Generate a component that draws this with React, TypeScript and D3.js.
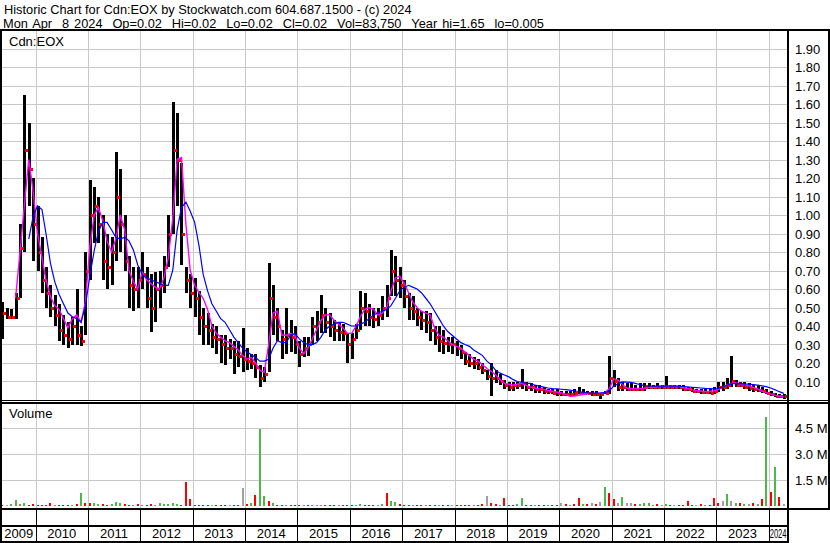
import React, { useEffect, useRef } from "react";
import * as d3 from "d3";

// monthly values, May 2009 .. Apr 2024
const highs = [
  0.53, 0.5, 0.49, 0.58, 0.95, 1.65, 1.5, 1.2,
  1.05, 0.88, 0.72, 0.62, 0.57, 0.52, 0.46, 0.42, 0.45, 0.6, 0.4, 0.8,
  1.19, 1.15, 1.1, 1.0, 0.9, 0.88, 1.34, 1.25, 1.0, 0.78, 0.72, 0.72,
  0.8, 0.72, 0.68, 0.69, 0.7, 0.78, 1.0, 1.61, 1.55, 1.28, 0.72, 0.68,
  0.66, 0.59, 0.5, 0.47, 0.41, 0.4, 0.35, 0.35, 0.33, 0.32, 0.32, 0.39,
  0.28, 0.25, 0.25, 0.19, 0.18, 0.74, 0.62, 0.5, 0.38, 0.5, 0.43, 0.4,
  0.32, 0.34, 0.34, 0.45, 0.48, 0.57, 0.5, 0.47, 0.43, 0.42, 0.41, 0.36,
  0.36, 0.41, 0.59, 0.58, 0.52, 0.5, 0.5, 0.56, 0.62, 0.81, 0.78, 0.72,
  0.65, 0.58, 0.56, 0.5, 0.48, 0.48, 0.47, 0.4, 0.4, 0.38, 0.34, 0.34,
  0.32, 0.3, 0.26, 0.25, 0.23, 0.22, 0.2, 0.16, 0.2, 0.16, 0.14, 0.11,
  0.1, 0.1, 0.1, 0.17, 0.1, 0.09, 0.08, 0.08, 0.07, 0.06, 0.06, 0.06,
  0.05, 0.05, 0.05, 0.06, 0.07, 0.06, 0.05, 0.05, 0.05, 0.04, 0.05, 0.24,
  0.16, 0.12, 0.1, 0.09, 0.09, 0.08, 0.09, 0.09, 0.09, 0.08, 0.09, 0.08,
  0.13, 0.08, 0.08, 0.08, 0.08, 0.07, 0.07, 0.06, 0.06, 0.06, 0.06, 0.07,
  0.1, 0.1, 0.12, 0.24, 0.11, 0.1, 0.1, 0.09, 0.08, 0.08, 0.07, 0.06,
  0.05, 0.04, 0.03, 0.03,
];
const lows = [
  0.33, 0.44, 0.44, 0.44, 0.55, 0.8, 1.05, 0.75,
  0.7, 0.58, 0.5, 0.45, 0.4, 0.32, 0.3, 0.28, 0.3, 0.3, 0.29, 0.35,
  0.65, 0.85, 0.85, 0.65, 0.6, 0.62, 0.75, 0.8, 0.7, 0.5, 0.48, 0.5,
  0.6, 0.5, 0.37, 0.42, 0.5, 0.58, 0.72, 0.9, 1.05, 0.73, 0.58, 0.5,
  0.45, 0.35, 0.3, 0.3, 0.28, 0.25, 0.2, 0.19, 0.22, 0.14, 0.18, 0.15,
  0.16, 0.17, 0.12, 0.07, 0.1, 0.15, 0.35, 0.32, 0.22, 0.25, 0.26, 0.25,
  0.18, 0.23, 0.24, 0.3, 0.32, 0.36, 0.36, 0.34, 0.32, 0.32, 0.32, 0.2,
  0.22, 0.33, 0.38, 0.4, 0.4, 0.39, 0.4, 0.43, 0.45, 0.56, 0.56, 0.55,
  0.5, 0.43, 0.43, 0.4, 0.38, 0.36, 0.32, 0.3, 0.26, 0.25, 0.26, 0.25,
  0.24, 0.22, 0.19, 0.18, 0.17, 0.16, 0.14, 0.11, 0.02, 0.09, 0.08, 0.06,
  0.05, 0.05, 0.06, 0.06, 0.05, 0.05, 0.04, 0.04, 0.03, 0.03, 0.03, 0.02,
  0.02, 0.02, 0.02, 0.02, 0.03, 0.03, 0.03, 0.02, 0.02, 0.005, 0.03, 0.03,
  0.07, 0.05, 0.05, 0.05, 0.05, 0.05, 0.05, 0.05, 0.06, 0.06, 0.06, 0.06,
  0.06, 0.06, 0.06, 0.06, 0.05, 0.05, 0.045, 0.04, 0.035, 0.035, 0.035, 0.035,
  0.045, 0.05, 0.06, 0.07, 0.07, 0.07, 0.06, 0.05, 0.045, 0.045, 0.04, 0.03,
  0.02, 0.015, 0.01, 0.005,
];
const closes = [
  0.47, 0.45, 0.45, 0.55, 0.82, 1.35, 1.25, 0.95,
  0.8, 0.65, 0.58, 0.5, 0.46, 0.38, 0.35, 0.33, 0.4, 0.35, 0.32, 0.7,
  1.0, 1.05, 0.95, 0.75, 0.72, 0.8, 1.1, 0.95, 0.75, 0.62, 0.6, 0.65,
  0.68, 0.55, 0.5, 0.6, 0.62, 0.72, 0.9, 1.35, 1.3, 0.9, 0.65, 0.58,
  0.55, 0.45, 0.4, 0.38, 0.34, 0.33, 0.3, 0.28, 0.28, 0.25, 0.24, 0.22,
  0.21, 0.2, 0.18, 0.12, 0.14, 0.55, 0.45, 0.4, 0.33, 0.35, 0.34, 0.3,
  0.25, 0.28, 0.3, 0.4, 0.42, 0.46, 0.42, 0.4, 0.38, 0.37, 0.36, 0.3,
  0.33, 0.38, 0.5, 0.48, 0.45, 0.44, 0.46, 0.5, 0.55, 0.7, 0.65, 0.62,
  0.56, 0.5, 0.48, 0.45, 0.43, 0.42, 0.38, 0.34, 0.32, 0.31, 0.3, 0.3,
  0.28, 0.26, 0.21, 0.2, 0.2, 0.18, 0.16, 0.13, 0.12, 0.12, 0.1, 0.08,
  0.07, 0.08, 0.08, 0.09, 0.07, 0.07, 0.06, 0.06, 0.05, 0.05, 0.04, 0.04,
  0.03, 0.03, 0.03, 0.04, 0.04, 0.04, 0.04, 0.03, 0.03, 0.03, 0.04, 0.12,
  0.1, 0.07, 0.07, 0.06, 0.06, 0.06, 0.06, 0.07, 0.07, 0.07, 0.07, 0.07,
  0.07, 0.07, 0.07, 0.07, 0.06, 0.06, 0.05, 0.05, 0.045, 0.045, 0.04, 0.05,
  0.07, 0.07, 0.08, 0.1, 0.08, 0.08, 0.07, 0.065, 0.06, 0.055, 0.05, 0.04,
  0.03, 0.02, 0.02, 0.02,
];
// magenta average line
const maShort = [
  null, null, null, 0.55, 0.8, 1.05, 1.3, 1.13,
  0.9, 0.77, 0.65, 0.56, 0.51, 0.49, 0.44, 0.39, 0.44, 0.46, 0.42, 0.53,
  0.83, 1.0, 1.04, 0.97, 0.86, 0.8, 0.87, 1.0, 0.92, 0.7, 0.64, 0.6,
  0.69, 0.65, 0.63, 0.61, 0.6, 0.66, 0.77, 0.98, 1.3, 1.31, 0.95, 0.7,
  0.62, 0.58, 0.55, 0.49, 0.4, 0.36, 0.34, 0.32, 0.31, 0.29, 0.27, 0.24,
  0.22, 0.23, 0.2, 0.16, 0.15, 0.3, 0.47, 0.48, 0.35, 0.35, 0.36, 0.35,
  0.28, 0.25, 0.28, 0.33, 0.38, 0.43, 0.46, 0.46, 0.43, 0.41, 0.39, 0.36,
  0.36, 0.4, 0.45, 0.49, 0.5, 0.49, 0.46, 0.47, 0.5, 0.59, 0.66, 0.67,
  0.63, 0.58, 0.53, 0.5, 0.48, 0.47, 0.46, 0.39, 0.35, 0.34, 0.32, 0.3,
  0.29, 0.28, 0.26, 0.24, 0.22, 0.21, 0.19, 0.17, 0.155, 0.135, 0.11, 0.09,
  0.085, 0.08, 0.085, 0.09, 0.08, 0.07, 0.065, 0.06, 0.057, 0.052, 0.047, 0.043,
  0.04, 0.03, 0.02, 0.022, 0.026, 0.03, 0.034, 0.036, 0.036, 0.036, 0.04, 0.06,
  0.115, 0.108, 0.085, 0.065, 0.063, 0.063, 0.063, 0.064, 0.067, 0.07, 0.072, 0.074,
  0.075, 0.076, 0.075, 0.072, 0.067, 0.062, 0.056, 0.052, 0.049, 0.046, 0.046, 0.05,
  0.058, 0.07, 0.082, 0.09, 0.093, 0.088, 0.083, 0.077, 0.068, 0.06, 0.05, 0.04,
  0.032, 0.025, 0.02, 0.018,
];
// blue average line
const maLong = [
  null, null, null, null, null, null, 0.87, 0.99,
  1.05, 1.03, 0.9, 0.74, 0.64, 0.57, 0.52, 0.47, 0.45, 0.44, 0.42, 0.51,
  0.67, 0.81, 0.91, 0.96, 0.96, 0.92, 0.88, 0.87, 0.88, 0.86, 0.81, 0.73,
  0.68, 0.66, 0.65, 0.64, 0.63, 0.62, 0.62, 0.7, 0.92, 1.04, 1.07, 1.02,
  0.96, 0.83, 0.68, 0.59, 0.52, 0.48, 0.44, 0.42, 0.38, 0.34, 0.31, 0.28,
  0.26, 0.245, 0.23, 0.21, 0.21, 0.22, 0.28, 0.32, 0.31, 0.31, 0.35, 0.36,
  0.33, 0.31, 0.3, 0.3, 0.31, 0.34, 0.38, 0.4, 0.41, 0.42, 0.42, 0.41,
  0.4, 0.4, 0.41, 0.42, 0.44, 0.46, 0.47, 0.48, 0.49, 0.51, 0.55, 0.59,
  0.61, 0.62, 0.61, 0.6, 0.58, 0.55, 0.52, 0.48, 0.44, 0.4, 0.37, 0.35,
  0.33, 0.31, 0.3, 0.29, 0.27, 0.255, 0.24, 0.21, 0.19, 0.16, 0.145, 0.135,
  0.125, 0.11, 0.1, 0.095, 0.09, 0.09, 0.08, 0.075, 0.07, 0.065, 0.062, 0.06,
  0.058, 0.056, 0.053, 0.05, 0.046, 0.042, 0.038, 0.036, 0.037, 0.038, 0.04, 0.05,
  0.075, 0.088, 0.098, 0.097, 0.095, 0.09, 0.084, 0.078, 0.076, 0.075, 0.075, 0.075,
  0.075, 0.075, 0.075, 0.075, 0.073, 0.071, 0.069, 0.067, 0.065, 0.063, 0.062, 0.06,
  0.062, 0.07, 0.08, 0.087, 0.09, 0.089, 0.087, 0.086, 0.083, 0.08, 0.076, 0.072,
  0.065, 0.055, 0.045, 0.036,
];
// volume in millions, and bar colour (g up, r down, n unchanged)
const volumes = [
  0.05, 0.08, 0.1, 0.35, 0.1, 0.2, 0.08, 0.1,
  0.06, 0.08, 0.05, 0.2, 0.08, 0.05, 0.06, 0.05, 0.08, 0.1, 0.75, 0.2,
  0.15, 0.15, 0.1, 0.12, 0.08, 0.1, 0.25, 0.2, 0.1, 0.06, 0.08, 0.1,
  0.08, 0.05, 0.1, 0.08, 0.2, 0.1, 0.12, 0.15, 0.12, 0.08, 1.4, 0.4,
  0.06, 0.05, 0.05, 0.06, 0.04, 0.05, 0.05, 0.06, 0.05, 0.06, 0.08, 1.05,
  0.1, 0.15, 0.65, 4.45, 0.6, 0.3, 0.15, 0.08, 0.06, 0.05, 0.05, 0.06,
  0.05, 0.04, 0.05, 0.06, 0.05, 0.08, 0.05, 0.04, 0.05, 0.04, 0.05, 0.06,
  0.06, 0.08, 0.1, 0.08, 0.06, 0.05, 0.06, 0.12, 0.77, 0.3, 0.25, 0.12,
  0.08, 0.06, 0.05, 0.05, 0.04, 0.05, 0.05, 0.06, 0.05, 0.06, 0.05, 0.04,
  0.05, 0.06, 0.08, 0.06, 0.05, 0.08, 0.1, 0.6, 0.2, 0.1, 0.08, 0.45,
  0.08, 0.06, 0.1, 0.45, 0.08, 0.06, 0.05, 0.06, 0.05, 0.05, 0.06, 0.05,
  0.2, 0.1, 0.08, 0.1, 0.45, 0.1, 0.12, 0.15, 0.12, 0.25, 1.08, 0.74,
  0.4, 0.2, 0.5, 0.15, 0.15, 0.1, 0.12, 0.2, 0.2, 0.08, 0.1, 0.06,
  0.1, 0.06, 0.08, 0.06, 0.08, 0.3, 0.06, 0.08, 0.1, 0.06, 0.08, 0.45,
  0.2, 0.3, 0.7, 0.3, 0.2, 0.15, 0.1, 0.1, 0.15, 0.1, 0.4, 5.15,
  0.8, 2.28, 0.55, 0.1,
];
const volColors =
  "rnggggrr" +
  "rrrrgrrrgrgr" +
  "rggrrgggrrgr" +
  "grrggggggrrr" +
  "rrrrnrrrnrrn" +
  "rgrggrgrrgrr" +
  "rgrgggrrrgrr" +
  "rggrrrggrggr" +
  "rrgrrgrrgrrn" +
  "rrrrgrrnrrgr" +
  "rrggrrgrrgrr" +
  "nrnrrgrnrngr" +
  "rngnnrggggrn" +
  "grnrrrrnrgrr" +
  "rngngrgnrgrg" +
  "rgrn";

const priceTicks = [0.1, 0.2, 0.3, 0.4, 0.5, 0.6, 0.7, 0.8, 0.9, 1.0, 1.1, 1.2, 1.3, 1.4, 1.5, 1.6, 1.7, 1.8, 1.9];
const volTicks = [1.5, 3.0, 4.5];
const yearLabels = ["2009", "2010", "2011", "2012", "2013", "2014", "2015", "2016", "2017", "2018", "2019", "2020", "2021", "2022", "2023", "2024"];

const title = "Historic Chart for Cdn:EOX by Stockwatch.com 604.687.1500 - (c) 2024";
const subtitle = "Mon Apr  8 2024  Op=0.02  Hi=0.02  Lo=0.02  Cl=0.02  Vol=83,750  Year hi=1.65  lo=0.005";

const W = 830;
const H = 543;
const FONT = "'Liberation Sans', Arial, sans-serif";
const GRID = "#c8c8c8";
const VOLCOL = { g: "#4cb84c", r: "#ff0000", n: "#a0a0a0" };

const App = () => {
  const svgRef = useRef();

  useEffect(() => {
    const svg = d3.select(svgRef.current);
    svg.selectAll("*").remove();

    const plotL = 2;
    const plotR = 787;
    const priceTop = 31;
    const priceBot = 400;
    const volTop = 404;
    const volBot = 508;

    const x = d3
      .scaleTime()
      .domain([new Date(2010, 0, 1), new Date(2024, 0, 1)])
      .range([35.5, 768.7]);
    const yP = d3.scaleLinear().domain([0, 1.9]).range([400, 48.5]);
    const yV = d3.scaleLinear().domain([0, 4.5]).range([506, 428.3]);

    const months = d3
      .timeMonth.range(new Date(2009, 4, 1), new Date(2024, 4, 1))
      .map((m) => d3.timeDay.offset(m, 14));
    const rows = months.map((d, i) => ({
      d,
      hi: highs[i],
      lo: lows[i],
      cl: closes[i],
      m1: maShort[i],
      m2: maLong[i],
      v: volumes[i],
      c: volColors[i],
    }));
    const yearStarts = d3.range(2010, 2025).map((y) => new Date(y, 0, 1));
    const bounds = [x.invert(plotL), ...yearStarts, x.invert(plotR + 1)];

    svg.append("rect").attr("width", W).attr("height", H).attr("fill", "#fff");

    // header (double spaces kept with nbsp)
    const head = svg.append("g").attr("font-family", FONT).attr("font-size", 12.8).attr("fill", "#000");
    head.append("text").attr("x", 4).attr("y", 13.5).text(title);
    head.append("text")
      .attr("x", 3)
      .attr("y", 27.5)
      .attr("word-spacing", 1.4)
      .text(subtitle.replace(/  /g, " \u00a0"));

    // grids
    const grid = svg.append("g").attr("stroke", GRID).attr("stroke-width", 1).attr("shape-rendering", "crispEdges");
    priceTicks.forEach((t) => {
      grid.append("line").attr("x1", plotL).attr("x2", plotR).attr("y1", Math.round(yP(t)) + 0.5).attr("y2", Math.round(yP(t)) + 0.5);
    });
    volTicks.forEach((t) => {
      grid.append("line").attr("x1", plotL).attr("x2", plotR).attr("y1", Math.round(yV(t)) + 0.5).attr("y2", Math.round(yV(t)) + 0.5);
    });
    yearStarts.forEach((d) => {
      const xx = Math.round(x(d)) + 0.5;
      grid.append("line").attr("x1", xx).attr("x2", xx).attr("y1", priceTop).attr("y2", priceBot);
      grid.append("line").attr("x1", xx).attr("x2", xx).attr("y1", volTop).attr("y2", volBot);
    });

    // clip
    svg.append("clipPath").attr("id", "pclip").append("rect").attr("x", plotL).attr("y", priceTop).attr("width", plotR - plotL).attr("height", priceBot - priceTop);
    svg.append("clipPath").attr("id", "vclip").append("rect").attr("x", plotL).attr("y", volTop).attr("width", plotR - plotL).attr("height", volBot - volTop);

    // price bars
    const pg = svg.append("g").attr("clip-path", "url(#pclip)").attr("shape-rendering", "crispEdges");
    pg.selectAll(".bar")
      .data(rows)
      .enter()
      .append("rect")
      .attr("x", (r) => Math.round(x(r.d)) - 1)
      .attr("y", (r) => yP(r.hi))
      .attr("width", 3)
      .attr("height", (r) => Math.max(1, yP(r.lo) - yP(r.hi)))
      .attr("fill", "#000");
    pg.selectAll(".cl")
      .data(rows)
      .enter()
      .append("rect")
      .attr("x", (r) => Math.round(x(r.d)) + 1)
      .attr("y", (r) => Math.round(yP(r.cl)) - 1)
      .attr("width", 3)
      .attr("height", 3)
      .attr("fill", "#ff0000");

    const line = (key) =>
      d3
        .line()
        .defined((r) => r[key] != null)
        .x((r) => x(r.d))
        .y((r) => yP(r[key]));
    const lg = svg.append("g").attr("clip-path", "url(#pclip)").attr("fill", "none");
    lg.append("path").attr("d", line("m1")(rows)).attr("stroke", "#ff00ff").attr("stroke-width", 1.4);
    lg.append("path").attr("d", line("m2")(rows)).attr("stroke", "#0000ff").attr("stroke-width", 1.2);

    // volume bars
    const vg = svg.append("g").attr("clip-path", "url(#vclip)").attr("shape-rendering", "crispEdges");
    vg.selectAll("rect")
      .data(rows)
      .enter()
      .append("rect")
      .attr("x", (r) => Math.round(x(r.d)) - 1)
      .attr("y", (r) => yV(r.v))
      .attr("width", 2)
      .attr("height", (r) => yV(0) - yV(r.v))
      .attr("fill", (r) => VOLCOL[r.c]);

    // frame lines
    const fr = svg.append("g").attr("fill", "#000").attr("shape-rendering", "crispEdges");
    fr.append("rect").attr("x", 0).attr("y", 29).attr("width", W).attr("height", 2);
    fr.append("rect").attr("x", 0).attr("y", 29).attr("width", 2).attr("height", 514);
    fr.append("rect").attr("x", 787).attr("y", 29).attr("width", 2).attr("height", 514);
    fr.append("rect").attr("x", 828).attr("y", 29).attr("width", 2).attr("height", 481);
    fr.append("rect").attr("x", 0).attr("y", 400).attr("width", W).attr("height", 1);
    fr.append("rect").attr("x", 0).attr("y", 402).attr("width", W).attr("height", 2);
    fr.append("rect").attr("x", 0).attr("y", 508).attr("width", W).attr("height", 2);
    fr.append("rect").attr("x", 0).attr("y", 525).attr("width", 789).attr("height", 2);
    fr.append("rect").attr("x", 0).attr("y", 541).attr("width", 789).attr("height", 2);
    yearStarts.forEach((d) => {
      fr.append("rect").attr("x", Math.round(x(d))).attr("y", 510).attr("width", 1).attr("height", 32);
    });

    // labels
    const lab = svg.append("g").attr("font-family", FONT).attr("font-size", 13).attr("fill", "#000");
    lab.append("text").attr("x", 9).attr("y", 46).text("Cdn:EOX");
    lab.append("text").attr("x", 9).attr("y", 418).text("Volume");
    priceTicks.forEach((t) => {
      lab.append("text").attr("x", 795).attr("y", yP(t) + 5).text(t.toFixed(2));
    });
    volTicks.forEach((t) => {
      lab.append("text").attr("x", 795).attr("y", yV(t) + 5).text(`${t.toFixed(1)} M`);
    });
    yearLabels.forEach((lbl, i) => {
      const a = x(bounds[i]);
      const b = x(bounds[i + 1]);
      const last = i === yearLabels.length - 1;
      const t = lab.append("text").attr("y", 538).text(lbl);
      if (last) {
        // squeezed into the short final year
        t.attr("x", a + 1).attr("textLength", plotR - a - 1.5).attr("lengthAdjust", "spacingAndGlyphs");
      } else {
        t.attr("x", (a + b) / 2).attr("text-anchor", "middle");
      }
    });
  });

  return (
    <div style={{ position: "absolute", left: 0, top: 0 }}>
      <svg ref={svgRef} width={W} height={H} style={{ display: "block" }}></svg>
    </div>
  );
};

export default App;
